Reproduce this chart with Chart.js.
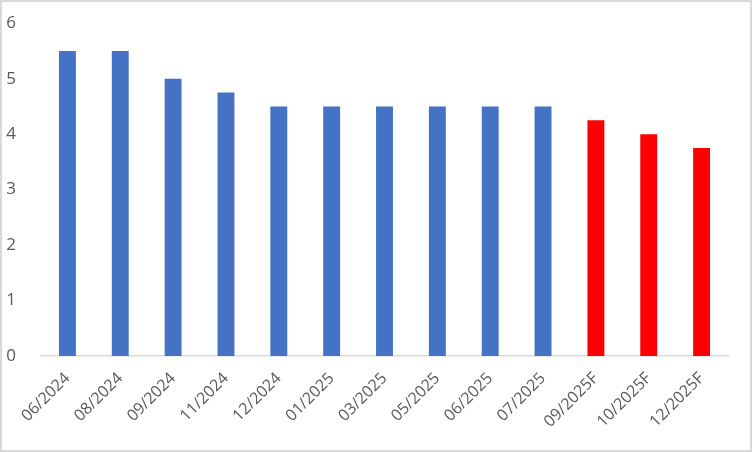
<!DOCTYPE html>
<html><head><meta charset="utf-8">
<script src="https://cdn.jsdelivr.net/npm/chart.js@4"></script>
<style>
html,body{margin:0;padding:0;background:#fff;}
#wrap{position:relative;width:752px;height:452px;}
#frame{position:absolute;left:0;top:0;width:748px;height:448px;border:2px solid #d9d9d9;pointer-events:none;}
canvas{position:absolute;left:0;top:0;}
</style></head>
<body>
<div id="wrap"><canvas id="c" width="752" height="452"></canvas><div id="frame"></div></div>
<script>
const categories = ["06/2024","08/2024","09/2024","11/2024","12/2024","01/2025","03/2025","05/2025","06/2025","07/2025","09/2025F","10/2025F","12/2025F"];
const values = [5.5,5.5,5.0,4.75,4.5,4.5,4.5,4.5,4.5,4.5,4.25,4.0,3.75];
const forecast = [false,false,false,false,false,false,false,false,false,false,true,true,true];
const yTicks = [0,1,2,3,4,5,6];

const xfont = {family:"'Open Sans','Liberation Sans',sans-serif", size:16};
const yfont = {family:"'Open Sans','Liberation Sans',sans-serif", size:17};
function zeroPad(s){s.paddingTop=0;s.paddingBottom=0;s.paddingLeft=0;s.paddingRight=0;}
new Chart(document.getElementById('c'), {
  type:'bar',
  data:{labels:categories, datasets:[{data:values,
    backgroundColor: forecast.map(f=>f?'#FF0000':'#4472C4'),
    barPercentage:0.32, categoryPercentage:1}]},
  options:{
    responsive:false, animation:false,
    layout:{padding:{left:0,right:24,top:23.3,bottom:0}},
    plugins:{legend:{display:false},tooltip:{enabled:false}},
    scales:{
      x:{grid:{display:false},border:{display:true,color:'#d9d9d9',width:1.5},
        ticks:{color:'#595959',font:xfont,minRotation:45,maxRotation:45,padding:5,autoSkip:false},
        afterFit(s){s.height=96;zeroPad(s);}},
      y:{min:0,max:6,grid:{display:false},border:{display:false},
        afterBuildTicks(s){s.ticks=yTicks.map(v=>({value:v}));},
        ticks:{color:'#595959',font:yfont,padding:17},
        afterFit(s){s.width=41;zeroPad(s);}}
    }
  }
});
</script>
</body></html>
